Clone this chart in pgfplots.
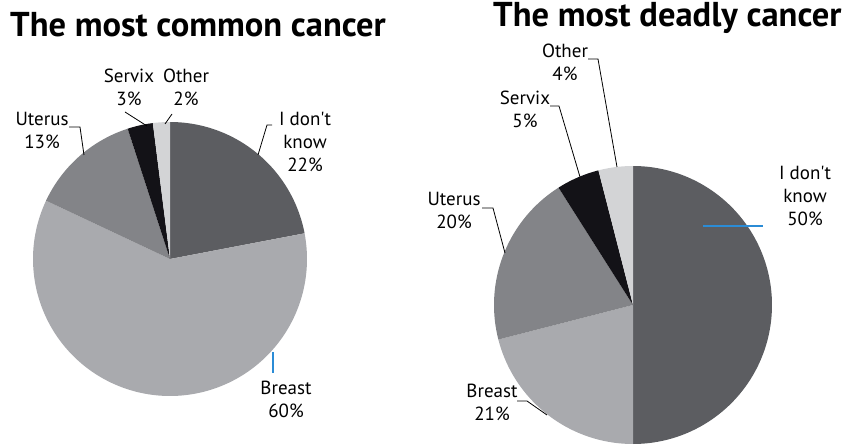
\documentclass[border=0pt]{standalone}
\usepackage{pgfplots}
\pgfplotsset{compat=1.18}
\usepackage{fontspec}
\setmainfont{PT Sans}
\definecolor{cIdk}{HTML}{5C5D61}
\definecolor{cBreast}{HTML}{A9AAAE}
\definecolor{cUterus}{HTML}{838488}
\definecolor{cServix}{HTML}{131217}
\definecolor{cOther}{HTML}{D3D4D6}
\definecolor{cBlue}{HTML}{2B8CD6}
% slice: {colour}{value}{cumulative before}
\newcommand\slice[3]{\addplot[fill=#1,draw=none,mark=none,domain={90-3.6*(#3+#2)}:{90-3.6*(#3)}] ({x},{1}) -- (axis cs:0,0) -- cycle;}
\pgfplotsset{piestyle/.style={anchor=center, scale only axis, xmin=-1, xmax=1, ymin=-1, ymax=1, hide axis, data cs=polar, samples=150, clip=false}}
\begin{document}
\begin{tikzpicture}
\path[use as bounding box] (0,0) rectangle (844pt,-446pt);
% Pie 1: The most common cancer
\begin{axis}[piestyle, at={(170pt,-259pt)}, width=274pt, height=274pt]
\slice{cIdk}{22}{0}
\slice{cBreast}{60}{22}
\slice{cUterus}{13}{82}
\slice{cServix}{3}{95}
\slice{cOther}{2}{98}
\end{axis}
% Pie 2: The most deadly cancer
\begin{axis}[piestyle, at={(633pt,-305pt)}, width=278pt, height=278pt]
\slice{cIdk}{50}{0}
\slice{cBreast}{21}{50}
\slice{cUterus}{20}{71}
\slice{cServix}{5}{91}
\slice{cOther}{4}{96}
\end{axis}
\begin{scope}[x=1pt,y=-1pt]
\tikzset{lab/.style={font=\fontsize{19}{23}\selectfont, align=center, inner sep=0pt, anchor=north}}
\node[anchor=base west, inner sep=0pt, font=\fontsize{34.5}{38}\bfseries] at (10,37) {The most common cancer};
\node[anchor=base west, inner sep=0pt, font=\fontsize{34.5}{38}\bfseries] at (493,27) {The most deadly cancer};
% pie 1 labels
\node[lab] at (129,69) {Servix\\3\%};
\node[lab] at (186,69) {Other\\2\%};
\node[lab] at (42,112) {Uterus\\13\%};
\node[lab] at (305,112) {I don\textquotesingle t\\know\\22\%};
\node[lab] at (286,381) {Breast\\60\%};
\draw[black, line width=0.8pt] (125,112) -- (147,126);
\draw[black, line width=0.8pt] (172,114) -- (165,124);
\draw[black, line width=0.8pt] (69,127) -- (80,127) -- (84,155);
\draw[black, line width=0.8pt] (272,125) -- (267,125) -- (258,155);
\draw[cBlue, line width=1.2pt] (273,352) -- (273,373);
% pie 2 labels
\node[lab] at (565,44) {Other\\4\%};
\node[lab] at (525,91) {Servix\\5\%};
\node[lab] at (454,192) {Uterus\\20\%};
\node[lab] at (805,166) {I don\textquotesingle t\\know\\50\%};
\node[lab] at (492,384) {Breast\\21\%};
\draw[black, line width=0.8pt] (588,59) -- (598,59) -- (617,167);
\draw[black, line width=0.8pt] (550,106) -- (559,106) -- (580,177);
\draw[black, line width=0.8pt] (482,208) -- (493,208) -- (505,253);
\draw[black, line width=0.8pt] (517,401) -- (527,401) -- (547,415);
\draw[cBlue, line width=1.2pt] (703,226) -- (763,226);
\end{scope}
\end{tikzpicture}
\end{document}
